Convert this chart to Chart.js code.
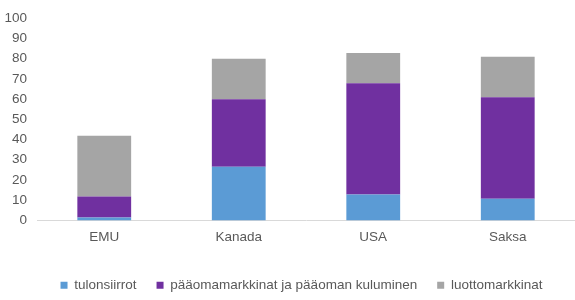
<!DOCTYPE html>
<html>
<head>
<meta charset="utf-8">
<script src="https://cdn.jsdelivr.net/npm/chart.js@4/dist/chart.umd.min.js"></script>
<style>
html,body{margin:0;padding:0;background:#fff;}
#wrap{width:575px;height:300px;position:relative;}
</style>
</head>
<body>
<div id="wrap"><canvas id="c" width="575" height="300"></canvas></div>
<script>
const categories = ["EMU", "Kanada", "USA", "Saksa"];
const seriesNames = ["tulonsiirrot", "pääomamarkkinat ja pääoman kuluminen", "luottomarkkinat"];
const tulonsiirrot = [1.5, 26.5, 12.8, 10.8];
const paaomamarkkinat = [10.4, 33.4, 55, 50.1];
const luottomarkkinat = [30, 20, 15, 20];
const yTickLabels = ["0", "10", "20", "30", "40", "50", "60", "70", "80", "90", "100"];

const colors = ["#5B9BD5", "#7030A0", "#A5A5A5"];
const textColor = "#595959";
const font = {family: "'Liberation Sans', Arial, sans-serif", size: 13.5};

const legendShift = {
  id: 'legendShift',
  afterLayout(chart) {
    const l = chart.legend;
    if (l) { l.left += 14; l.right += 14; }
  }
};

new Chart(document.getElementById('c'), {
  type: 'bar',
  data: {
    labels: categories,
    datasets: [tulonsiirrot, paaomamarkkinat, luottomarkkinat].map((d, i) => ({
      label: seriesNames[i],
      data: d,
      backgroundColor: colors[i],
      borderWidth: 0,
      categoryPercentage: 1,
      barPercentage: 0.4
    }))
  },
  plugins: [legendShift],
  options: {
    responsive: false,
    animation: false,
    devicePixelRatio: 1,
    layout: {padding: {left: 0, right: 0, top: 14, bottom: -2}},
    plugins: {
      tooltip: {enabled: false},
      legend: {
        position: 'bottom',
        labels: {
          boxWidth: 7, boxHeight: 7,
          padding: 20,
          color: textColor,
          font: font
        }
      }
    },
    scales: {
      x: {
        stacked: true,
        grid: {display: false, drawTicks: false},
        border: {display: true, color: '#D9D9D9', width: 1},
        ticks: {color: textColor, font: font, padding: 9, maxRotation: 0},
        afterFit: (s) => { s.height = 38; }
      },
      y: {
        stacked: true,
        min: 0, max: 100,
        grid: {display: false, drawTicks: false},
        border: {display: false},
        ticks: {
          color: textColor, font: font, padding: 10, stepSize: 10, autoSkip: false,
          callback: (v, i) => yTickLabels[i]
        },
        afterFit: (s) => { s.width = 37; }
      }
    }
  }
});
</script>
</body>
</html>
